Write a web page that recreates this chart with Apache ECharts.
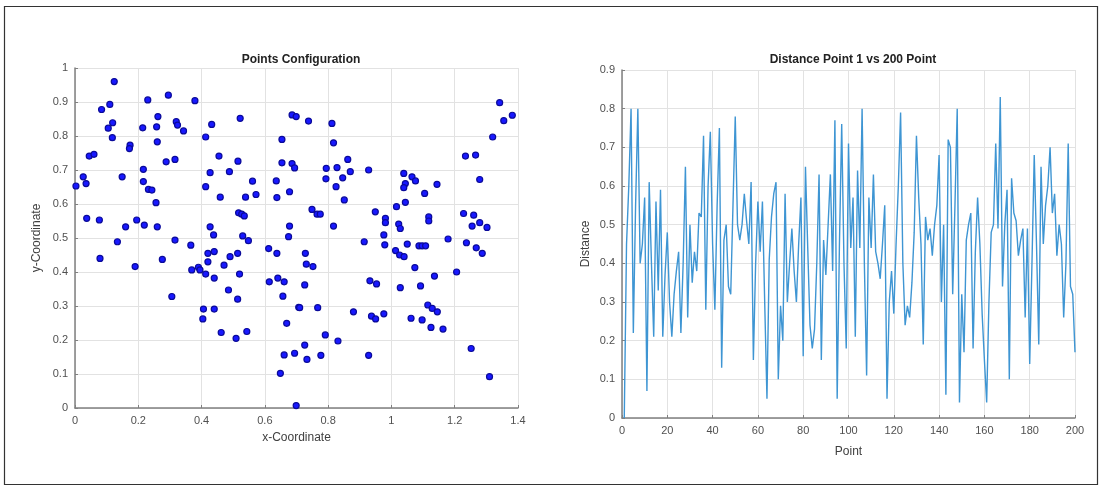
<!DOCTYPE html>
<html>
<head>
<meta charset="utf-8">
<script src="https://cdn.jsdelivr.net/npm/echarts@6/dist/echarts.min.js"></script>
<style>
  html, body { margin: 0; padding: 0; background: #fff; }
  #container { width: 1103px; height: 490px; }
</style>
</head>
<body>
<div id="container"></div>
<script>
// point coordinates
var pointX = [
  0.003,0.026,0.035,0.037,0.045,0.06,0.077,0.084,0.11,0.105,0.119,0.118,0.124,0.149,0.174,0.172,0.16,0.195,0.216,0.216,
  0.214,0.23,0.262,0.258,0.26,0.232,0.243,0.256,0.219,0.26,0.288,0.316,0.295,0.32,0.324,0.343,0.379,0.413,0.432,0.427,
  0.413,0.455,0.459,0.488,0.515,0.522,0.517,0.527,0.535,0.539,0.561,0.572,0.427,0.636,0.638,0.654,0.654,0.686,0.694,0.678,
  0.686,0.699,0.678,
  0.738,0.812,0.817,0.862,0.794,0.828,0.87,0.793,0.846,0.825,0.851,0.928,1.039,1.065,1.076,1.044,1.039,1.144,1.105,1.044,
  1.016,1.234,1.266,1.279,1.32,1.342,1.355,1.382,0.749,0.765,0.775,0.949,0.981,0.981,1.023,1.028,1.118,1.118,1.228,1.26,
  1.255,1.279,1.302,0.817,
  0.134,0.079,0.19,0.316,0.276,0.366,0.306,0.369,0.39,0.395,0.413,0.44,0.42,0.42,0.44,0.438,0.471,0.49,0.514,0.52,
  0.53,0.548,0.485,0.514,0.404,0.406,0.44,0.462,0.509,0.543,0.612,0.638,0.614,0.641,0.661,0.657,0.669,0.707,0.675,0.649,
  0.661,0.694,0.699,
  0.914,0.976,0.979,1.05,1.087,1.097,1.108,1.179,1.237,1.268,1.287,0.728,0.731,0.752,0.726,0.71,0.767,1.013,1.026,1.04,
  1.074,1.136,1.206,0.932,0.953,1.028,1.092,0.88,0.937,0.95,0.976,1.115,1.129,1.145,1.062,1.097,1.125,1.163,0.791,0.831,
  0.726,0.733,0.777,0.928,1.252,1.31
];
var pointY = [
  0.653,0.68,0.66,0.558,0.741,0.746,0.553,0.878,0.893,0.823,0.839,0.795,0.96,0.68,0.773,0.763,0.533,0.553,0.702,0.666,
  0.824,0.906,0.857,0.827,0.783,0.643,0.641,0.604,0.538,0.533,0.724,0.731,0.92,0.842,0.832,0.815,0.904,0.797,0.834,0.692,
  0.651,0.741,0.62,0.695,0.726,0.852,0.574,0.57,0.565,0.62,0.667,0.628,0.533,0.668,0.619,0.79,0.721,0.719,0.706,0.636,
  0.862,0.857,0.535,
  0.844,0.837,0.78,0.731,0.705,0.707,0.695,0.674,0.677,0.651,0.612,0.7,0.69,0.68,0.668,0.66,0.648,0.658,0.631,0.605,
  0.592,0.741,0.744,0.672,0.797,0.898,0.845,0.861,0.584,0.57,0.57,0.577,0.558,0.545,0.541,0.528,0.562,0.55,0.572,0.567,
  0.535,0.545,0.531,0.535,
  0.489,0.44,0.416,0.494,0.437,0.479,0.328,0.406,0.414,0.406,0.394,0.382,0.43,0.455,0.46,0.509,0.42,0.445,0.455,0.394,
  0.506,0.492,0.347,0.32,0.262,0.291,0.291,0.222,0.205,0.225,0.469,0.455,0.371,0.382,0.371,0.329,0.249,0.296,0.504,0.102,
  0.156,0.161,0.007,
  0.489,0.509,0.48,0.482,0.477,0.477,0.477,0.497,0.486,0.471,0.455,0.455,0.423,0.416,0.362,0.295,0.295,0.463,0.45,0.445,
  0.413,0.388,0.4,0.374,0.365,0.354,0.359,0.283,0.27,0.262,0.277,0.303,0.293,0.283,0.264,0.259,0.237,0.232,0.215,0.197,
  0.185,0.143,0.155,0.155,0.175,0.092
];

// distance from point 1 to points 1..200
var distance = [
  0.00,0.45,0.60,0.80,0.22,0.55,0.80,0.40,0.45,0.57,
  0.07,0.61,0.40,0.21,0.56,0.33,0.59,0.21,0.37,0.48,
  0.30,0.21,0.32,0.38,0.43,0.22,0.40,0.65,0.26,0.50,
  0.35,0.43,0.38,0.53,0.52,0.73,0.28,0.60,0.74,0.45,
  0.28,0.55,0.75,0.13,0.46,0.50,0.34,0.32,0.55,0.78,
  0.50,0.46,0.50,0.58,0.51,0.45,0.61,0.15,0.40,0.56,
  0.43,0.56,0.30,0.05,0.41,0.52,0.58,0.61,0.10,0.29,
  0.20,0.58,0.30,0.40,0.49,0.38,0.30,0.45,0.57,0.16,
  0.65,0.44,0.24,0.18,0.23,0.40,0.63,0.15,0.46,0.37,
  0.50,0.63,0.38,0.77,0.05,0.45,0.76,0.40,0.18,0.71,
  0.44,0.57,0.21,0.64,0.44,0.80,0.40,0.11,0.57,0.44,
  0.63,0.43,0.40,0.36,0.45,0.55,0.05,0.30,0.38,0.27,
  0.45,0.60,0.79,0.40,0.24,0.29,0.26,0.35,0.48,0.73,
  0.57,0.45,0.19,0.52,0.46,0.49,0.42,0.50,0.55,0.68,
  0.30,0.50,0.06,0.72,0.70,0.32,0.55,0.80,0.04,0.32,
  0.17,0.46,0.50,0.53,0.18,0.43,0.57,0.45,0.27,0.15,
  0.04,0.30,0.48,0.50,0.71,0.49,0.83,0.34,0.50,0.59,
  0.10,0.62,0.53,0.51,0.42,0.46,0.49,0.26,0.49,0.14,
  0.40,0.68,0.45,0.19,0.65,0.45,0.55,0.60,0.70,0.53,
  0.58,0.42,0.50,0.45,0.26,0.40,0.71,0.34,0.32,0.17
];

var FONT = 'Liberation Sans';

function valueAxis(gridIndex, min, max, interval, name, nameGap, rotate) {
    return {
        type: 'value',
        gridIndex: gridIndex,
        min: min,
        max: max,
        interval: interval,
        name: name,
        nameLocation: 'middle',
        nameGap: nameGap,
        nameRotate: rotate,
        nameTextStyle: { fontFamily: FONT, fontSize: 12, color: '#404040' },
        axisLine: { show: true, onZero: false, lineStyle: { color: '#808080', width: 1.5 } },
        axisTick: { show: true, inside: true, length: 3, lineStyle: { color: '#808080' } },
        axisLabel: { fontFamily: FONT, fontSize: 11, color: '#505050', margin: 7 },
        splitLine: { show: true, lineStyle: { color: '#e2e2e2', width: 1 } }
    };
}

var myChart = echarts.init(document.getElementById('container'));

var option = {
    animation: false,
    backgroundColor: '#ffffff',
    title: [
        {
            text: 'Points Configuration',
            left: 296, top: 49, textAlign: 'center',
            textStyle: { fontFamily: FONT, fontSize: 12, fontWeight: 'bold', color: '#222' }
        },
        {
            text: 'Distance Point 1 vs 200 Point',
            left: 848, top: 49, textAlign: 'center',
            textStyle: { fontFamily: FONT, fontSize: 12, fontWeight: 'bold', color: '#222' }
        }
    ],
    grid: [
        { left: 75, top: 68, width: 443, height: 340 },
        { left: 622, top: 70, width: 453, height: 348 }
    ],
    xAxis: [
        valueAxis(0, 0, 1.4, 0.2, 'x-Coordinate', 24, 0),
        valueAxis(1, 0, 200, 20, 'Point', 28, 0)
    ],
    yAxis: [
        valueAxis(0, 0, 1, 0.1, 'y-Coordinate', 32, 90),
        valueAxis(1, 0, 0.9, 0.1, 'Distance', 30, 90)
    ],
    series: [
        {
            type: 'scatter',
            xAxisIndex: 0,
            yAxisIndex: 0,
            symbol: 'circle',
            symbolSize: 6,
            itemStyle: { color: '#1818ff', borderColor: '#0a0a9a', borderWidth: 1.2, opacity: 1 },
            data: pointX.map(function (x, i) { return [x, pointY[i]]; })
        },
        {
            type: 'line',
            xAxisIndex: 1,
            yAxisIndex: 1,
            showSymbol: false,
            lineStyle: { color: '#3e95d3', width: 1.4 },
            data: distance.map(function (d, i) { return [i + 1, d]; })
        }
    ],
    graphic: [
        {
            type: 'rect',
            shape: { x: 4.5, y: 6.5, width: 1093, height: 478 },
            style: { fill: null, stroke: '#333333', lineWidth: 1.2 },
            silent: true
        }
    ]
};

myChart.setOption(option);
</script>
</body>
</html>
